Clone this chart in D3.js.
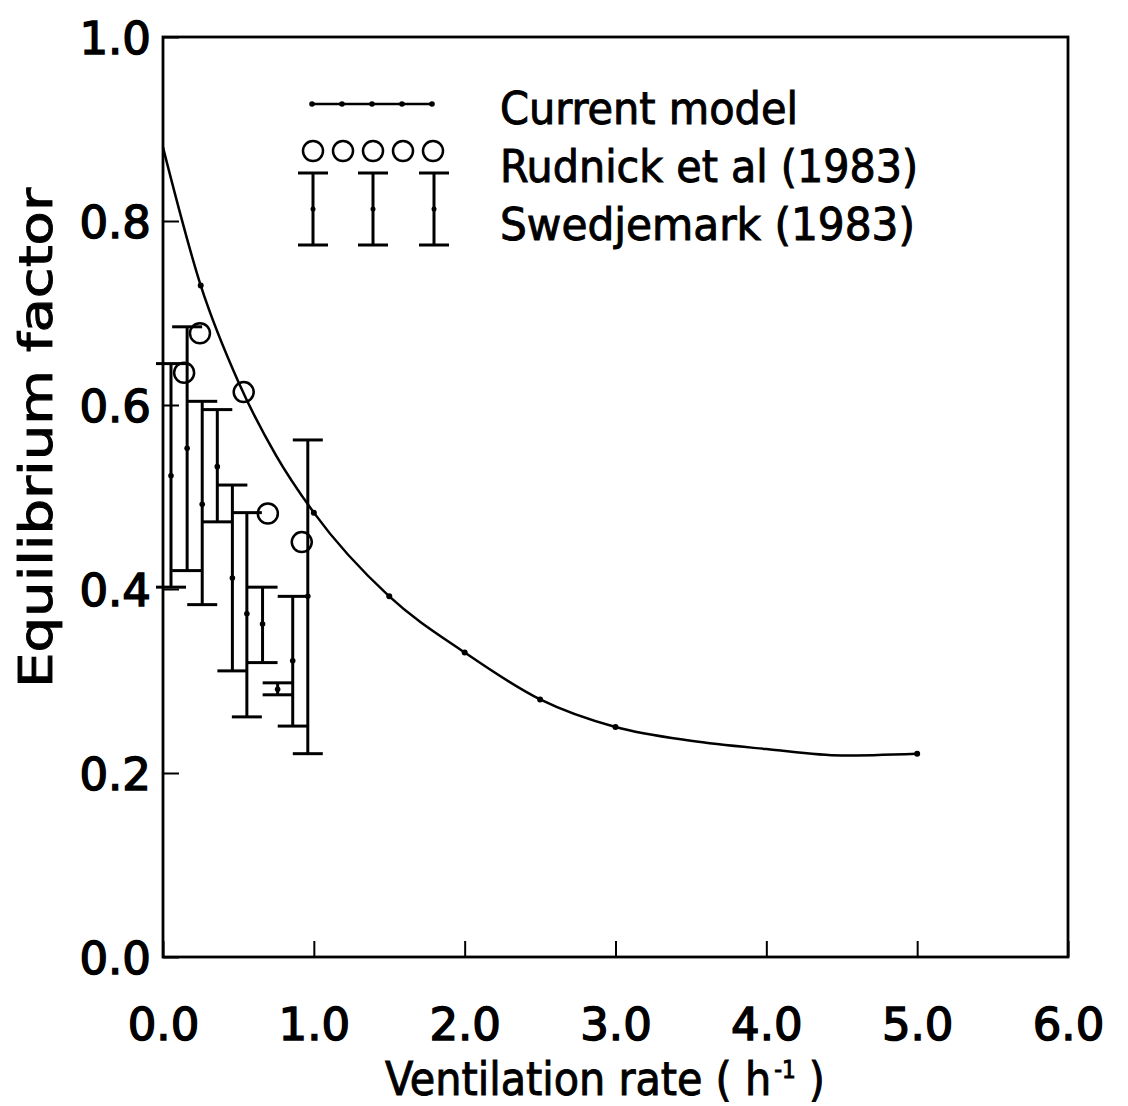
<!DOCTYPE html>
<html>

<head>
  <title>Equilibrium factor</title>
  <script src="https://cdn.jsdelivr.net/npm/d3@7/dist/d3.min.js"></script>
  <style type="text/css">
    body {
      margin: 0;
      background: white;
    }

    text {
      font-family: "DejaVu Sans Condensed", "Liberation Sans Narrow", "DejaVu Sans", sans-serif;
      fill: black;
      stroke: black;
      stroke-width: 0.9px;
    }
  </style>
</head>

<body>
  <div id="chartArea"></div>
  <script type="text/javascript">
    // current model curve
    let modelX = [0, 0.25, 0.5, 0.75, 1.0, 1.5, 2.0, 2.5, 3.0, 3.5, 4.0, 4.5, 5.0];
    let modelY = [0.88, 0.73, 0.625, 0.545, 0.483, 0.392, 0.331, 0.28, 0.25, 0.235, 0.226, 0.219, 0.221];
    let modelDotX = [0.25, 1.0, 1.5, 2.0, 2.5, 3.0, 5.0];

    // Rudnick et al (1983)
    let rudX = [0.14, 0.245, 0.535, 0.695, 0.92];
    let rudY = [0.635, 0.678, 0.614, 0.482, 0.451];

    // Swedjemark (1983): mean and range
    let swedX = [0.053, 0.16, 0.26, 0.36, 0.46, 0.556, 0.66, 0.76, 0.86, 0.96];
    let swedMean = [0.523, 0.553, 0.492, 0.533, 0.412, 0.373, 0.362, 0.291, 0.322, 0.392];
    let swedLow = [0.402, 0.42, 0.383, 0.473, 0.311, 0.261, 0.32, 0.285, 0.251, 0.221];
    let swedHigh = [0.645, 0.685, 0.604, 0.595, 0.513, 0.483, 0.402, 0.298, 0.392, 0.562];

    let xTicks = [0, 1, 2, 3, 4, 5, 6];
    let yTicks = [0, 0.2, 0.4, 0.6, 0.8, 1.0];

    let w = 1128;
    let h = 1106;

    let xScale = d3.scaleLinear().domain([0, 6]).range([163, 1068]);
    let yScale = d3.scaleLinear().domain([0, 1]).range([957, 37]);

    let svg = d3.select('#chartArea').append('svg')
      .attr('width', w)
      .attr('height', h);

    // axes
    let fmt = d3.format('.1f');
    let xAxis = svg.append('g')
      .attr('transform', 'translate(0,' + yScale(0) + ')')
      .call(d3.axisBottom(xScale).tickValues(xTicks).tickFormat(fmt)
        .tickSizeInner(-16).tickSizeOuter(0).tickPadding(52));
    let yAxis = svg.append('g')
      .attr('transform', 'translate(' + xScale(0) + ',0)')
      .call(d3.axisLeft(yScale).tickValues(yTicks).tickFormat(fmt)
        .tickSizeInner(-16).tickSizeOuter(0).tickPadding(12));

    [xAxis, yAxis].forEach(a => {
      a.select('.domain').remove();
      a.selectAll('line').attr('stroke', 'black').attr('stroke-width', 2);
      a.selectAll('text')
        .style('font-family', '"DejaVu Sans", sans-serif')
        .style('stroke-width', '1.5px')
        .attr('font-size', 45)
        .attr('fill', 'black');
    });
    xAxis.selectAll('text').attr('dy', '0.68em');
    yAxis.selectAll('text').attr('dy', '0.36em');

    // frame
    svg.append('rect')
      .attr('x', xScale(0))
      .attr('y', yScale(1))
      .attr('width', xScale(6) - xScale(0))
      .attr('height', yScale(0) - yScale(1))
      .attr('fill', 'none')
      .attr('stroke', 'black')
      .attr('stroke-width', 2.8);

    // Swedjemark error bars
    let capW = 15;
    let bars = svg.append('g').attr('stroke', 'black').attr('stroke-width', 3);
    swedX.forEach((x, i) => {
      let cx = xScale(x);
      bars.append('line')
        .attr('x1', cx).attr('x2', cx)
        .attr('y1', yScale(swedLow[i])).attr('y2', yScale(swedHigh[i]));
      [swedLow[i], swedHigh[i]].forEach(v => {
        bars.append('line')
          .attr('x1', cx - capW).attr('x2', cx + capW)
          .attr('y1', yScale(v)).attr('y2', yScale(v));
      });
      svg.append('circle')
        .attr('cx', cx).attr('cy', yScale(swedMean[i]))
        .attr('r', 2.8).attr('fill', 'black');
    });

    // model curve
    let modelData = modelX.map((x, i) => ({ x: x, y: modelY[i] }));
    let line = d3.line()
      .x(d => xScale(d.x))
      .y(d => yScale(d.y))
      .curve(d3.curveMonotoneX);
    svg.append('path')
      .datum(modelData)
      .attr('d', line)
      .attr('fill', 'none')
      .attr('stroke', 'black')
      .attr('stroke-width', 2.5);
    svg.selectAll('.mdot')
      .data(modelData.filter(d => modelDotX.includes(d.x)))
      .enter()
      .append('circle')
      .attr('class', 'mdot')
      .attr('cx', d => xScale(d.x))
      .attr('cy', d => yScale(d.y))
      .attr('r', 3)
      .attr('fill', 'black');

    // Rudnick circles
    svg.selectAll('.rud')
      .data(rudX)
      .enter()
      .append('circle')
      .attr('class', 'rud')
      .attr('cx', d => xScale(d))
      .attr('cy', (d, i) => yScale(rudY[i]))
      .attr('r', 10)
      .attr('fill', 'none')
      .attr('stroke', 'black')
      .attr('stroke-width', 2.5);

    // legend
    let lg = svg.append('g');
    let lx = [312, 342, 372, 402, 432];
    lg.append('line')
      .attr('x1', lx[0]).attr('x2', lx[4])
      .attr('y1', 104).attr('y2', 104)
      .attr('stroke', 'black').attr('stroke-width', 2.5);
    lx.forEach(x => {
      lg.append('circle').attr('cx', x).attr('cy', 104).attr('r', 2.8).attr('fill', 'black');
      lg.append('circle').attr('cx', x + 1).attr('cy', 151).attr('r', 10)
        .attr('fill', 'none').attr('stroke', 'black').attr('stroke-width', 2.5);
    });
    [313, 373, 434].forEach(x => {
      lg.append('line').attr('x1', x).attr('x2', x).attr('y1', 173).attr('y2', 245)
        .attr('stroke', 'black').attr('stroke-width', 3);
      [173, 245].forEach(yy => {
        lg.append('line').attr('x1', x - capW).attr('x2', x + capW).attr('y1', yy).attr('y2', yy)
          .attr('stroke', 'black').attr('stroke-width', 3);
      });
      lg.append('circle').attr('cx', x).attr('cy', 209).attr('r', 2.5).attr('fill', 'black');
    });
    let legendText = ['Current model', 'Rudnick et al  (1983)', 'Swedjemark  (1983)'];
    let legendLen = [298, 418, 415];
    legendText.forEach((t, i) => {
      lg.append('text')
        .attr('x', 500)
        .attr('y', 124 + i * 58)
        .attr('font-size', 44)
        .attr('textLength', legendLen[i])
        .attr('lengthAdjust', 'spacingAndGlyphs')
        .text(t);
    });

    // axis titles
    svg.append('text')
      .attr('transform', 'translate(52,438) rotate(-90)')
      .attr('text-anchor', 'middle')
      .attr('font-size', 46)
      .attr('textLength', 500)
      .attr('lengthAdjust', 'spacingAndGlyphs')
      .text('Equilibrium factor');

    let xt = svg.append('text')
      .attr('x', 385)
      .attr('y', 1095)
      .attr('font-size', 46);
    xt.append('tspan').text('Ventilation rate ( h');
    xt.append('tspan').attr('font-size', 24).attr('dx', 3).attr('dy', -17).text('-1');
    xt.append('tspan').attr('dy', 17).text('  )');
  </script>
</body>

</html>
